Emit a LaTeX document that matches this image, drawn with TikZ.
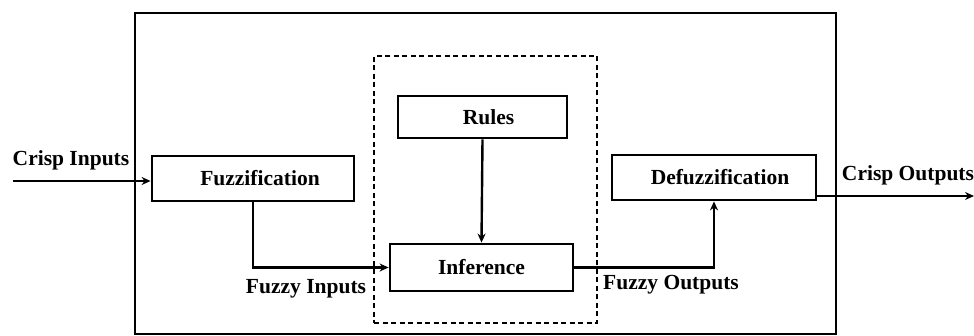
\documentclass[tikz,border=0pt]{standalone}
\usepackage{fontspec}
\setmainfont{Liberation Serif}
\usetikzlibrary{arrows.meta}
\begin{document}
\begin{tikzpicture}[x=1pt,y=-1pt,
  blk/.style={draw,line width=2.8pt,minimum width=#1,inner sep=0pt},
  lbl/.style={font=\fontsize{21.5}{23}\selectfont\bfseries,inner sep=0pt},
  conn/.style={line width=2.4pt,-{Stealth[length=9pt,width=8pt]}}]
\useasboundingbox (0,0) rectangle (974,336);
\node[draw,line width=2.8pt,minimum width=701pt,minimum height=321pt,inner sep=0pt] (outer) at (485.5,173.5) {};
\node[draw,line width=1.3pt,dash pattern=on 5pt off 3.5pt,minimum width=223pt,minimum height=267pt,inner sep=0pt] (dash) at (485.5,189.5) {};
\node[blk=202pt,minimum height=45pt,lbl] (fuzz) at (253,178.5) {\hspace*{14pt}Fuzzification};
\node[blk=169pt,minimum height=42pt,lbl] (rules) at (482.5,117) {\hspace*{12pt}Rules};
\node[blk=183pt,minimum height=47pt,lbl] (inf) at (481.5,267.5) {Inference};
\node[blk=204pt,minimum height=45pt,lbl] (defuzz) at (714,177.5) {\hspace*{12pt}Defuzzification};
\coordinate (ci) at (13,181);
\coordinate (co) at (974,196);
\draw[conn] (ci) -- (ci -| fuzz.west);
\draw[conn] (fuzz.south) |- (inf.west);
\draw[conn] (rules.south) -- (inf.north);
\draw[conn] (inf.east) -| (defuzz.south);
\draw[conn] (defuzz.east |- co) -- (co);
\node[lbl] (l1) at (71,160) {Crisp Inputs};
\node[lbl] (l2) at (306,289) {Fuzzy Inputs};
\node[lbl] (l3) at (671,285) {Fuzzy Outputs};
\node[lbl] (l4) at (908,175) {Crisp Outputs};
\end{tikzpicture}
\end{document}
